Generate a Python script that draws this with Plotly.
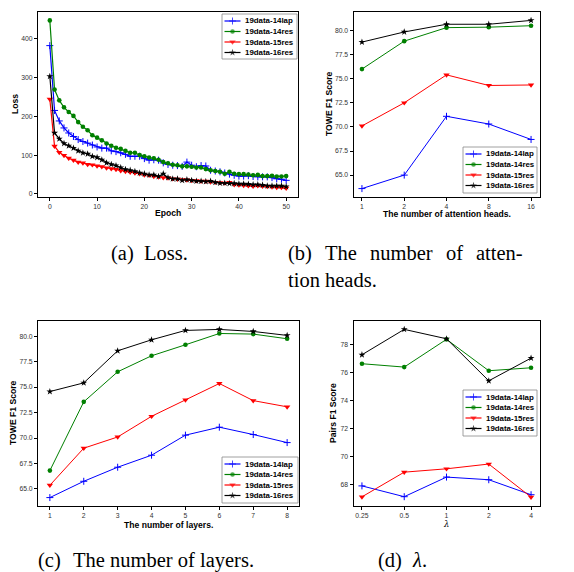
import plotly.graph_objects as go

W, H = 574, 572

# ---------------- data ----------------
series_names = ["19data-14lap", "19data-14res", "19data-15res", "19data-16res"]
colors = ["#0000ff", "#008000", "#ff0000", "#000000"]
symbols = ["cross-thin", "circle", "triangle-down", "star"]

epochs = list(range(51))
loss_14lap = [382, 215, 188, 170, 157, 148, 140, 135, 131, 126, 121, 118, 118, 111, 109, 106, 102, 97, 97, 97,
              91, 87, 88, 87, 80, 76, 74, 73, 71, 82, 74, 70, 73, 72, 61, 59, 57, 54, 51, 48,
              46, 46, 47, 45, 44, 44, 44, 42, 39, 38, 35]
loss_14res = [447, 269, 241, 223, 211, 201, 185, 173, 164, 151, 145, 138, 130, 124, 119, 116, 111, 106, 106, 100,
              97, 94, 92, 88, 82, 79, 75, 74, 71, 71, 70, 68, 68, 64, 61, 59, 57, 52, 57, 52,
              51, 51, 50, 48, 49, 46, 46, 47, 45, 45, 46]
loss_15res = [244, 123, 107, 99, 92, 87, 82, 80, 76, 75, 72, 70, 67, 65, 63, 60, 58, 56, 54, 52,
              49, 48, 45, 44, 42, 41, 39, 38, 37, 36, 35, 34, 33, 33, 31, 30, 29, 28, 30, 24,
              23, 22, 21, 20, 21, 20, 19, 18, 17, 17, 15]
loss_16res = [303, 157, 142, 130, 124, 118, 111, 106, 103, 97, 94, 88, 80, 76, 73, 68, 63, 61, 58, 54,
              52, 49, 49, 45, 52, 42, 39, 39, 35, 37, 35, 33, 33, 32, 33, 30, 28, 28, 27, 27,
              26, 26, 25, 24, 24, 23, 21, 21, 21, 21, 19]

heads_labels = ["1", "2", "4", "8", "16"]
heads_14lap = [63.6, 65.0, 71.1, 70.3, 68.7]
heads_14res = [76.0, 78.9, 80.3, 80.35, 80.5]
heads_15res = [70.1, 72.5, 75.4, 74.3, 74.35]
heads_16res = [78.8, 79.85, 80.65, 80.65, 81.05]

layers = [1, 2, 3, 4, 5, 6, 7, 8]
layers_14lap = [64.15, 65.75, 67.13, 68.31, 70.28, 71.06, 70.34, 69.55]
layers_14res = [66.8, 73.55, 76.5, 78.07, 79.15, 80.26, 80.2, 79.74]
layers_15res = [65.36, 69.0, 70.1, 72.13, 73.74, 75.35, 73.67, 73.06]
layers_16res = [74.56, 75.41, 78.56, 79.64, 80.56, 80.66, 80.46, 80.07]

lambda_labels = ["0.25", "0.5", "1", "2", "4"]
lambda_14lap = [67.9, 67.13, 68.53, 68.34, 67.27]
lambda_14res = [76.62, 76.38, 78.36, 76.12, 76.33]
lambda_15res = [67.12, 68.88, 69.12, 69.46, 67.1]
lambda_16res = [77.26, 79.07, 78.4, 75.4, 77.02]

loss_tick_vals = [0, 100, 200, 300, 400]
f1_tick_vals = [65.0, 67.5, 70.0, 72.5, 75.0, 77.5, 80.0]
pairs_tick_vals = [68, 70, 72, 74, 76, 78]

# ---------------- helpers ----------------
def px(x):
    return x / W

def py(y):
    return 1 - y / H

def pad_range(vals, frac=0.05):
    lo, hi = min(vals), max(vals)
    d = (hi - lo) * frac
    return [lo - d, hi + d]

TICK_FONT = dict(family="Liberation Sans, Arial", size=6.8, color="#333333")
TITLE_FONT = dict(family="Liberation Sans, Arial", size=8.6, color="#000000")
LEG_FONT = dict(family="Liberation Sans, Arial", size=7.9, color="#000000")
CAP_SIZE = 20.5
CAP_FONT = dict(family="Liberation Serif, Times New Roman", size=CAP_SIZE, color="#000000")

fig = go.Figure()

panels = [
    ("", epochs, [loss_14lap, loss_14res, loss_15res, loss_16res], 1.2),
    ("2", heads_labels, [heads_14lap, heads_14res, heads_15res, heads_16res], 1.0),
    ("3", layers, [layers_14lap, layers_14res, layers_15res, layers_16res], 1.0),
    ("4", lambda_labels, [lambda_14lap, lambda_14res, lambda_15res, lambda_16res], 1.0),
]

sym_size = {"cross-thin": 5.0, "circle": 4.6, "triangle-down": 5.6, "star": 5.2}

def marker_style(sym, col, size):
    return dict(symbol=sym, size=size, color=col,
                line=dict(color=col, width=1 if sym == "cross-thin" else 0))

for suf, xs, ser, lw in panels:
    for name, col, sym, ys in zip(series_names, colors, symbols, ser):
        fig.add_trace(go.Scatter(
            x=xs, y=ys, mode="lines+markers", name=name, showlegend=False,
            line=dict(color=col, width=lw),
            marker=marker_style(sym, col, sym_size[sym]),
            xaxis="x" + suf, yaxis="y" + suf,
        ))

axis_common = dict(showline=True, linecolor="black", linewidth=1, mirror=True,
                   ticks="outside", ticklen=3, tickwidth=1, tickcolor="black",
                   showgrid=False, zeroline=False, tickfont=TICK_FONT, automargin=False)

all_loss = loss_14lap + loss_14res + loss_15res + loss_16res
all_heads = heads_14lap + heads_14res + heads_15res + heads_16res
all_layers = layers_14lap + layers_14res + layers_15res + layers_16res
all_lambda = lambda_14lap + lambda_14res + lambda_15res + lambda_16res

layout = dict(
    template="none",
    width=W, height=H, margin=dict(l=0, r=0, t=0, b=0, pad=0),
    paper_bgcolor="white", plot_bgcolor="rgba(0,0,0,0)", showlegend=False,
    xaxis=dict(domain=[px(38), px(298)], anchor="y", range=pad_range(epochs),
               tickvals=[0, 10, 20, 30, 40, 50], **axis_common),
    yaxis=dict(domain=[py(196.5), py(12)], anchor="x", range=pad_range(all_loss),
               tickvals=loss_tick_vals, **axis_common),
    xaxis2=dict(domain=[px(353.5), px(539.5)], anchor="y2", type="category",
                range=[-0.2, 4.2], **axis_common),
    yaxis2=dict(domain=[py(197), py(12)], anchor="x2", range=pad_range(all_heads),
                tickvals=f1_tick_vals, tickformat=".1f", **axis_common),
    xaxis3=dict(domain=[px(38), px(299)], anchor="y3", range=pad_range(layers),
                tickvals=layers, **axis_common),
    yaxis3=dict(domain=[py(506), py(321)], anchor="x3", range=pad_range(all_layers),
                tickvals=f1_tick_vals, tickformat=".1f", **axis_common),
    xaxis4=dict(domain=[px(353.5), px(539.5)], anchor="y4", type="category",
                range=[-0.2, 4.2], **axis_common),
    yaxis4=dict(domain=[py(505.5), py(321)], anchor="x4", range=pad_range(all_lambda),
                tickvals=pairs_tick_vals, **axis_common),
    # overlay axis in pixel units for the legends
    xaxis5=dict(domain=[0, 1], anchor="y5", range=[0, W], visible=False, fixedrange=True,
                automargin=False),
    yaxis5=dict(domain=[0, 1], anchor="x5", range=[H, 0], visible=False, fixedrange=True,
                automargin=False),
)
fig.update_layout(**layout)

# ---------------- legends (drawn manually to match compact matplotlib style) ----------------
legend_boxes = [(222, 14, 297, 59), (463, 147, 537, 193), (222, 457, 298, 503), (463, 390, 537, 436)]
annotations = []
for (x0, y0, x1, y1) in legend_boxes:
    fig.add_trace(go.Scatter(
        x=[x0, x1, x1, x0, x0], y=[y0, y0, y1, y1, y0], mode="lines", fill="toself",
        fillcolor="rgba(255,255,255,0.85)", line=dict(color="#888888", width=0.8),
        xaxis="x5", yaxis="y5", showlegend=False, hoverinfo="skip"))
    for i, (name, col, sym) in enumerate(zip(series_names, colors, symbols)):
        ry = y0 + 7 + i * 10.5
        fig.add_trace(go.Scatter(
            x=[x0 + 2.5, x0 + 10.5, x0 + 18.5], y=[ry, ry, ry], mode="lines+markers",
            line=dict(color=col, width=1.2),
            marker=marker_style(sym, col, [0, sym_size[sym], 0]),
            xaxis="x5", yaxis="y5", showlegend=False, hoverinfo="skip"))
        annotations.append(dict(text="<b>%s</b>" % name, x=px(x0 + 21.5), y=py(ry),
                                xref="paper", yref="paper", xanchor="left", yanchor="middle",
                                showarrow=False, font=LEG_FONT, borderpad=0))

# ---------------- axis titles ----------------
def title(text, x, y, angle=0, font=TITLE_FONT):
    annotations.append(dict(text=text, x=px(x), y=py(y), xref="paper", yref="paper",
                            xanchor="center", yanchor="middle", showarrow=False,
                            textangle=angle, font=font, borderpad=0))

title("<b>Loss</b>", 15, 104, -90)
title("<b>Epoch</b>", 168, 213)
title("<b>TOWE F1 Score</b>", 329, 104, -90)
title("<b>The number of attention heads.</b>", 447, 213.5)
title("<b>TOWE F1 Score</b>", 13, 413, -90)
title("<b>The number of layers.</b>", 168, 524.5)
title("<b>Pairs F1 Score</b>", 333, 413, -90)
title("<i>λ</i>", 446, 524, 0, dict(family="DejaVu Serif", size=8.5, color="#000000"))

# ---------------- captions ----------------
def cap(text, x, y):
    annotations.append(dict(text=text, x=px(x), y=py(y), xref="paper", yref="paper",
                            xanchor="left", yanchor="middle", showarrow=False, font=CAP_FONT,
                            borderpad=0))

cap("(a)", 110, 253)
cap("Loss.", 143, 253)

# justified first line of caption (b): words spread over the column 287..522
b_words = ["(b)", "The", "number", "of", "atten-"]
b_em = [1.166, 1.555, 3.055, 0.833, 2.277]   # Times word widths in em
col_left, col_right = 287, 522
gap = (col_right - col_left - sum(b_em) * CAP_SIZE) / (len(b_words) - 1)
xpos = col_left
for w, em in zip(b_words, b_em):
    cap(w, xpos, 253)
    xpos += em * CAP_SIZE + gap
cap("tion heads.", 287, 280)

cap("(c)", 37, 560)
cap("The number of layers.", 72, 560)
cap("(d)", 377, 560)
cap("<i>λ</i>.", 410.5, 560)

fig.update_layout(annotations=annotations)
fig.write_html("out.html", config={"displayModeBar": False},
               post_script="document.body.style.margin='0';document.body.style.overflow='hidden';")
